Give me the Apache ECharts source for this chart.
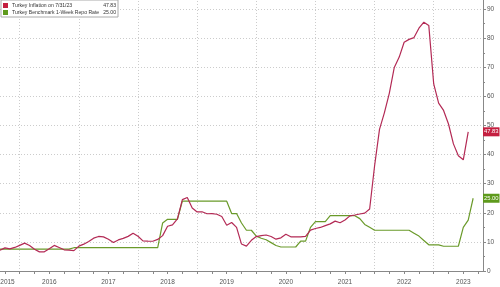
<!DOCTYPE html>
<html><head><meta charset="utf-8">
<script src="https://cdn.jsdelivr.net/npm/echarts@6/dist/echarts.min.js"></script>
<style>html,body{margin:0;padding:0;background:#fff}#c{width:500px;height:287px}</style>
</head><body><div id="c"></div>
<script>
// Month-end categories Aug 2015 .. Oct 2023
const months = [];
for (let y = 2015, m = 8; y < 2023 || (y === 2023 && m <= 10); m++) {
  if (m > 12) { m = 1; y++; }
  months.push(y + '-' + String(m).padStart(2, '0'));
}
const inflation = [
  7.14, 7.95, 7.58, 8.10, 8.81,
  9.58, 8.78, 7.46, 6.57, 6.58, 7.64, 8.79, 8.05, 7.28, 7.16, 7.00, 8.53,
  9.22, 10.13, 11.29, 11.87, 11.72, 10.90, 9.79, 10.68, 11.20, 11.90, 12.98, 11.92,
  10.35, 10.26, 10.23, 10.85, 12.15, 15.39, 15.85, 17.90, 24.52, 25.24, 21.62, 20.30,
  20.35, 19.67, 19.71, 19.50, 18.71, 15.72, 16.65, 15.01, 9.26, 8.55, 10.56, 11.84,
  12.15, 12.37, 11.86, 10.94, 11.39, 12.62, 11.76, 11.77, 11.75, 11.89, 14.03, 14.60,
  14.97, 15.61, 16.19, 17.14, 16.59, 17.53, 18.95, 19.25, 19.58, 19.89, 21.31, 36.08,
  48.69, 54.44, 61.14, 69.97, 73.50, 78.62, 79.60, 80.21, 83.45, 85.51, 84.39, 64.27,
  57.68, 55.18, 50.51, 43.68, 39.59, 38.21, 47.83
];
const repoRate = [
  7.5, 7.5, 7.5, 7.5, 7.5,
  7.5, 7.5, 7.5, 7.5, 7.5, 7.5, 7.5, 7.5, 7.5, 7.5, 8.0, 8.0,
  8.0, 8.0, 8.0, 8.0, 8.0, 8.0, 8.0, 8.0, 8.0, 8.0, 8.0, 8.0,
  8.0, 8.0, 8.0, 8.0, 16.5, 17.75, 17.75, 17.75, 24.0, 24.0, 24.0, 24.0,
  24.0, 24.0, 24.0, 24.0, 24.0, 24.0, 19.75, 19.75, 16.5, 14.0, 14.0, 12.0,
  11.25, 10.75, 9.75, 8.75, 8.25, 8.25, 8.25, 8.25, 10.25, 10.25, 15.0, 17.0,
  17.0, 17.0, 19.0, 19.0, 19.0, 19.0, 19.0, 19.0, 18.0, 16.0, 15.0, 14.0,
  14.0, 14.0, 14.0, 14.0, 14.0, 14.0, 14.0, 13.0, 12.0, 10.5, 9.0, 9.0,
  9.0, 8.5, 8.5, 8.5, 8.5, 15.0, 17.5, 25.0
];
const yTicks = [0, 10, 20, 30, 40, 50, 60, 70, 80, 90];
const seriesNames = ['Turkey Inflation on 7/31/23', 'Turkey Benchmark 1-Week Repo Rate'];
const lastValues = ['47.83', '25.00'];
const colors = ['#b32a55', '#6a9a2a'];
const boxColors = ['#c41f40', '#5e9a1c'];

const chart = echarts.init(document.getElementById('c'), null, {renderer: 'canvas'});
const font = 'Liberation Sans';
function endMark(i, val) {
  return {
    silent: true, symbol: 'none',
    lineStyle: {width: 0, color: 'rgba(0,0,0,0)'},
    data: [{yAxis: val}],
    label: {show: true, position: 'end', distance: 0, formatter: lastValues[i], color: '#fff',
      backgroundColor: boxColors[i], padding: [2, 1, 1, 1], fontSize: 5.8, fontFamily: font}
  };
}
chart.setOption({
  animation: false,
  textStyle: {fontFamily: font},
  grid: {left: 0, right: 17, top: -20, bottom: 16, containLabel: false, outerBoundsMode: 'none'},
  legend: {
    left: 1, top: 0, orient: 'vertical',
    itemWidth: 5, itemHeight: 5, itemGap: 2,
    padding: [3, 2, 2, 2],
    borderColor: '#aaa', borderWidth: 1, backgroundColor: '#fff',
    icon: 'rect',
    data: seriesNames,
    formatter: function (name) {
      const i = seriesNames.indexOf(name);
      return '{n|' + name + '}{v|' + lastValues[i] + '}';
    },
    textStyle: {
      fontFamily: font, fontSize: 5.1, color: '#333', padding: [0, 0, 0, -1],
      rich: {
        n: {fontFamily: font, fontSize: 5.1, color: '#333', width: 91},
        v: {fontFamily: font, fontSize: 5.1, color: '#333', width: 13, align: 'right'}
      }
    }
  },
  xAxis: {
    type: 'category', data: months, boundaryGap: false, offset: 3,
    axisLine: {show: true, lineStyle: {color: '#888', width: 1}},
    axisTick: {
      show: true, length: 3, lineStyle: {color: '#888'},
      interval: function (i, v) { return /-(03|06|09|12)$/.test(v); }
    },
    axisLabel: {
      show: true, fontSize: 6.5, color: '#555', margin: 5,
      interval: function (i, v) { return i === 0 || /-06$/.test(v); },
      formatter: function (v, i) { return i === 0 ? '{first|2015}' : v.slice(0, 4); },
      rich: {first: {fontSize: 6.5, color: '#555', padding: [0, 0, 0, 15]}}
    },
    splitLine: {
      show: true,
      interval: function (i, v) { return /-12$/.test(v); },
      lineStyle: {color: '#ccc', type: [1, 2], width: 1}
    }
  },
  yAxis: {
    type: 'value', position: 'right', min: 0, max: 100, interval: 10,
    axisLine: {show: true, lineStyle: {color: '#888'}},
    axisTick: {show: true, length: 3, lineStyle: {color: '#888'}},
    minorTick: {show: true, splitNumber: 2, length: 2, lineStyle: {color: '#888'}},
    axisLabel: {fontSize: 6.5, color: '#555', margin: 4,
      formatter: function (v) { return yTicks.indexOf(v) >= 0 ? String(v) : ''; }},
    splitLine: {show: true, lineStyle: {color: '#ccc', type: [1, 2], width: 1}}
  },
  series: [
    {
      name: seriesNames[0], type: 'line', data: inflation, showSymbol: false, z: 3,
      lineStyle: {color: colors[0], width: 1.2}, itemStyle: {color: boxColors[0]},
      markLine: endMark(0, inflation[inflation.length - 1])
    },
    {
      name: seriesNames[1], type: 'line', data: repoRate, showSymbol: false, z: 2,
      lineStyle: {color: colors[1], width: 1.2}, itemStyle: {color: boxColors[1]},
      markLine: endMark(1, repoRate[repoRate.length - 1])
    }
  ]
});
</script>
</body></html>
